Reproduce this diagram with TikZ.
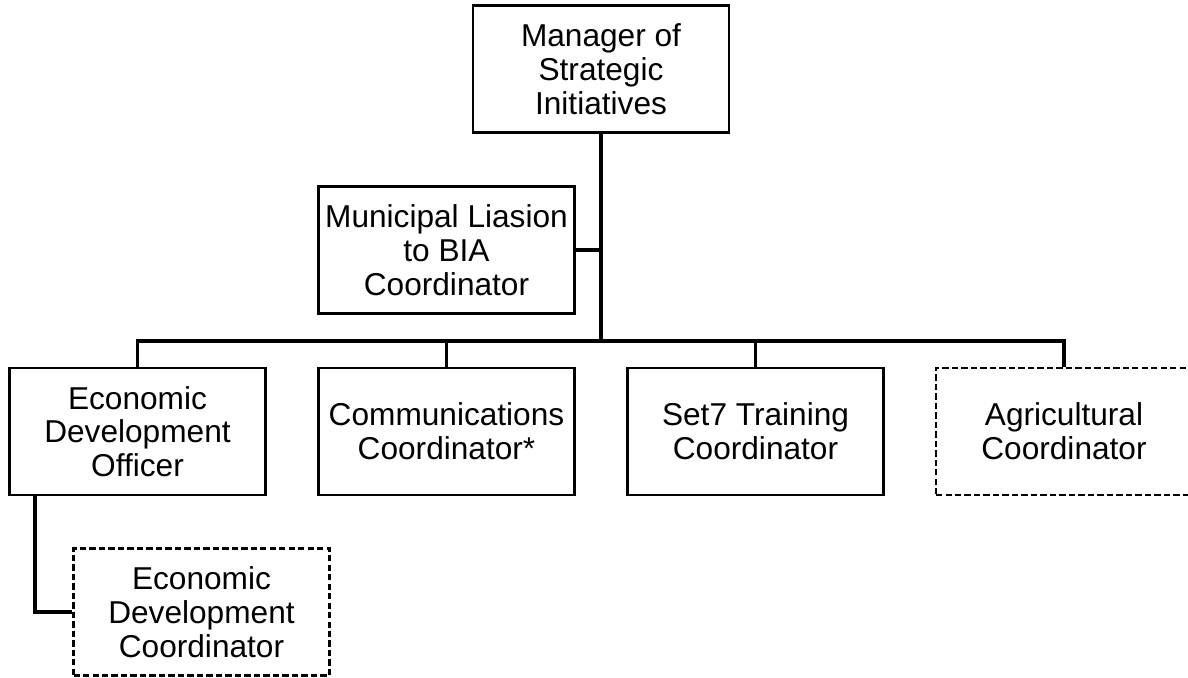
\documentclass[tikz,border=0pt]{standalone}
\usepackage{fontspec}
\setmainfont{Liberation Sans}
\usetikzlibrary{positioning}
\tikzset{
  post/.style={draw,line width=1.2pt,minimum width=5.12cm,minimum height=2.54cm,
    align=center,inner sep=2pt,font=\fontsize{18}{19.2}\selectfont},
  vacant/.style={post,dash pattern=on 3.6pt off 1.8pt},
  wire/.style={draw,line width=1.8pt}
}

\begin{document}
\begin{tikzpicture}[x=0.02cm,y=-0.02cm]

    \useasboundingbox (0,0) rectangle (1188,678);

    \def\busy{341} % horizontal bus

    % boxes
    \node[post] (mgr)  at (601,69)     {Manager of\\Strategic\\Initiatives};
    \node[post] (muni) at (446.5,250)  {Municipal Liasion\\to BIA\\Coordinator};
    \node[post] (edo)  at (137.5,431.5) {Economic\\Development\\Officer};
    \node[post] (comm) at (446.5,431.5) {Communications\\Coordinator*};
    \node[post] (set7) at (755.5,431.5) {Set7 Training\\Coordinator};
    \node[vacant] (agri) at (1064,431.5) {Agricultural\\Coordinator};
    \node[vacant] (edc)  at (201.5,612) {Economic\\Development\\Coordinator};

    % helper points
    \coordinate (bus) at (601,\busy);
    \coordinate (sub) at (35,495);

    % connectors
    \path[wire] (mgr.south) -- (bus);
    \path[wire] (muni.east) -- (muni.east -| mgr.south);
    \path[wire] (edo.north) |- (bus) -| (agri.north);
    \path[wire] (comm.north) -- (comm.north |- bus);
    \path[wire] (set7.north) -- (set7.north |- bus);
    \path[wire] (sub) |- (edc.west);

\end{tikzpicture}
\end{document}
